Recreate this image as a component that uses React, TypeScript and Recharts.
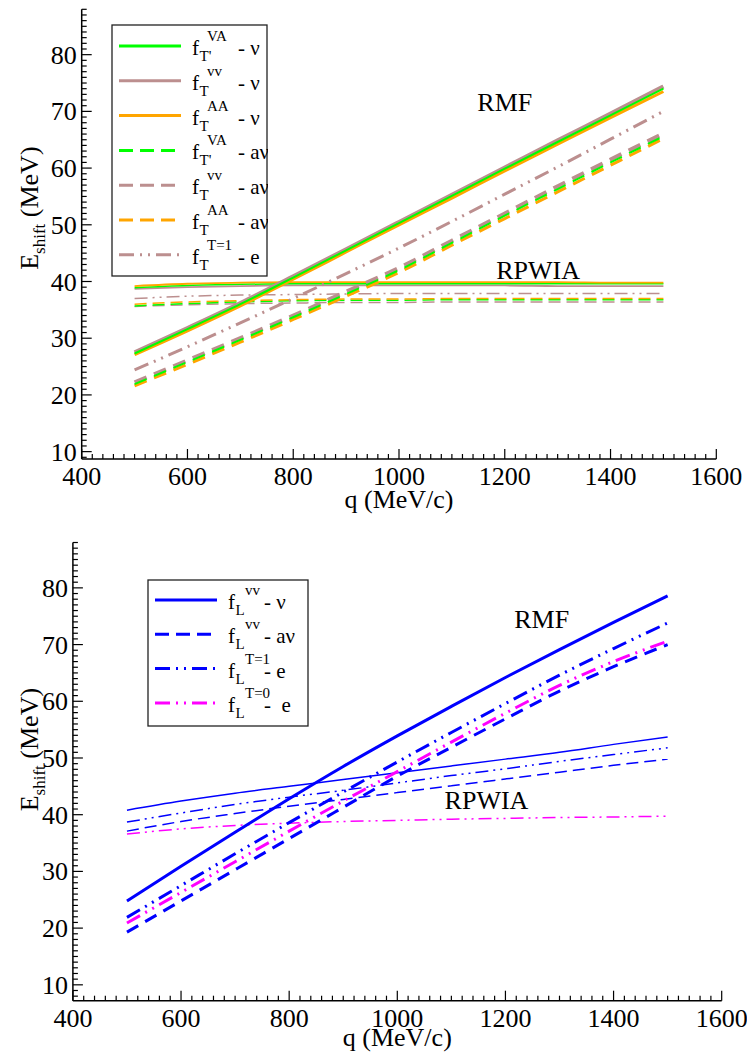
import React from 'react';
import { LineChart, Line, XAxis, YAxis, ReferenceDot, Legend, Label } from 'recharts';

const FONT = "'Liberation Serif', 'Times New Roman', Times, serif";
const TXT = { fontFamily: FONT };

const GREEN = '#00ff00';
const BROWN = '#bc8f8f';
const ORANGE = '#ffa500';
const BLUE = '#0000ff';
const MAGENTA = '#ff00ff';

// momentum transfer q (MeV/c)
const qValues = [500, 600, 700, 800, 900, 1000, 1100, 1200, 1300, 1400, 1500];

// ---- Top panel: transverse, RMF ----
const tRmfVAnu = [27.3, 31.6, 36.0, 40.7, 45.5, 50.3, 55.1, 59.9, 64.6, 69.3, 74.0];
const tRmfVVnu = [27.5, 31.8, 36.2, 40.9, 45.7, 50.5, 55.3, 60.1, 64.9, 69.6, 74.4];
const tRmfAAnu = [27.1, 31.3, 35.7, 40.4, 45.2, 50.0, 54.7, 59.5, 64.2, 68.9, 73.5];
const tRmfVAanu = [21.9, 25.8, 29.7, 33.7, 37.8, 42.0, 46.8, 51.6, 56.3, 61.0, 65.6];
const tRmfVVanu = [22.2, 26.1, 30.0, 34.0, 38.2, 42.4, 47.2, 52.0, 56.8, 61.5, 66.1];
const tRmfAAanu = [21.6, 25.4, 29.3, 33.3, 37.4, 41.6, 46.4, 51.1, 55.8, 60.5, 65.2];
const tRmfE = [24.4, 28.5, 32.7, 37.0, 41.4, 45.9, 50.6, 55.4, 60.2, 65.1, 70.0];
// ---- Top panel: transverse, RPWIA ----
const tPwVAnu = [38.9, 39.3, 39.5, 39.6, 39.6, 39.6, 39.6, 39.6, 39.6, 39.6, 39.6];
const tPwVVnu = [38.7, 39.0, 39.2, 39.3, 39.3, 39.3, 39.3, 39.3, 39.2, 39.2, 39.2];
const tPwAAnu = [39.2, 39.6, 39.8, 39.9, 39.9, 39.9, 39.9, 39.9, 39.9, 39.8, 39.8];
const tPwVAanu = [35.7, 36.1, 36.4, 36.6, 36.7, 36.7, 36.8, 36.8, 36.8, 36.8, 36.8];
const tPwVVanu = [35.6, 35.9, 36.1, 36.2, 36.3, 36.3, 36.4, 36.4, 36.4, 36.4, 36.4];
const tPwAAanu = [36.0, 36.4, 36.6, 36.8, 36.9, 36.9, 37.0, 37.0, 37.0, 37.0, 37.0];
const tPwE = [37.0, 37.4, 37.6, 37.7, 37.8, 37.9, 37.9, 37.9, 37.9, 37.9, 37.9];

// ---- Bottom panel: longitudinal, RMF ----
const lRmfNu = [24.8, 30.9, 36.9, 42.8, 48.5, 53.9, 59.1, 64.2, 69.1, 73.9, 78.6];
const lRmfAnu = [19.3, 24.8, 30.3, 35.8, 41.3, 46.8, 51.9, 56.9, 61.8, 66.1, 70.0];
const lRmfE1 = [21.9, 27.5, 33.1, 38.6, 44.0, 49.3, 54.5, 59.6, 64.6, 69.3, 73.8];
const lRmfE0 = [20.9, 26.3, 31.7, 37.1, 42.4, 47.6, 52.8, 57.9, 62.8, 67.0, 70.6];
// ---- Bottom panel: longitudinal, RPWIA ----
const lPwNu = [40.8, 42.4, 43.8, 45.0, 46.2, 47.4, 48.6, 49.8, 51.0, 52.4, 53.7];
const lPwAnu = [37.1, 38.8, 40.2, 41.5, 42.7, 43.9, 45.1, 46.3, 47.5, 48.7, 49.8];
const lPwE1 = [38.7, 40.3, 41.8, 43.1, 44.3, 45.6, 46.9, 48.1, 49.4, 50.6, 51.8];
const lPwE0 = [36.6, 37.5, 38.1, 38.5, 38.8, 39.0, 39.2, 39.35, 39.5, 39.6, 39.75];

// axis ticks
const xMajorTicks = [400, 600, 800, 1000, 1200, 1400, 1600];
const yMajorTicks = [10, 20, 30, 40, 50, 60, 70, 80];
const X_MINOR = 20;
const Y_MINOR = 1;
const topYDomain = [8.7, 88];
const botYDomain = [7.2, 88];

function stepTicks(min: number, max: number, step: number) {
  const out: number[] = [];
  for (let v = min; v <= max + 1e-9; v += step) out.push(Math.round(v * 1000) / 1000);
  return out;
}
const xTicks = stepTicks(400, 1600, X_MINOR);
const topYTicks = stepTicks(9, 88, Y_MINOR);
const botYTicks = stepTicks(8, 88, Y_MINOR);
const isXMajor = (v: number) => xMajorTicks.includes(Math.round(v));
const isYMajor = (v: number) => yMajorTicks.includes(Math.round(v));

const topData = qValues.map((q, i) => ({
  q,
  rVAnu: tRmfVAnu[i], rVVnu: tRmfVVnu[i], rAAnu: tRmfAAnu[i],
  rVAanu: tRmfVAanu[i], rVVanu: tRmfVVanu[i], rAAanu: tRmfAAanu[i], rE: tRmfE[i],
  pVAnu: tPwVAnu[i], pVVnu: tPwVVnu[i], pAAnu: tPwAAnu[i],
  pVAanu: tPwVAanu[i], pVVanu: tPwVVanu[i], pAAanu: tPwAAanu[i], pE: tPwE[i],
}));

const botData = qValues.map((q, i) => ({
  q,
  rNu: lRmfNu[i], rAnu: lRmfAnu[i], rE1: lRmfE1[i], rE0: lRmfE0[i],
  pNu: lPwNu[i], pAnu: lPwAnu[i], pE1: lPwE1[i], pE0: lPwE0[i],
}));

const DASH_THICK = '13 8';
const DDOT_THICK = '15 6 2 6 2 6';
const DASH_THIN = '12 6';
const DDOT_THIN = '13 5 2 5 2 5';

type SeriesDef = { key: string; color: string; width: number; dash?: string };

const topSeries: SeriesDef[] = [
  { key: 'pVVanu', color: BROWN, width: 1.5, dash: DASH_THIN },
  { key: 'pVAanu', color: GREEN, width: 1.5, dash: DASH_THIN },
  { key: 'pAAanu', color: ORANGE, width: 1.5, dash: DASH_THIN },
  { key: 'pE', color: BROWN, width: 1.5, dash: DDOT_THIN },
  { key: 'pVVnu', color: BROWN, width: 1.8 },
  { key: 'pVAnu', color: GREEN, width: 1.5 },
  { key: 'pAAnu', color: ORANGE, width: 1.8 },
  { key: 'rE', color: BROWN, width: 3, dash: DDOT_THICK },
  { key: 'rVVanu', color: BROWN, width: 4, dash: DASH_THICK },
  { key: 'rAAanu', color: ORANGE, width: 3, dash: DASH_THICK },
  { key: 'rVAanu', color: GREEN, width: 2, dash: DASH_THICK },
  { key: 'rVVnu', color: BROWN, width: 4 },
  { key: 'rAAnu', color: ORANGE, width: 3 },
  { key: 'rVAnu', color: GREEN, width: 2 },
];

const botSeries: SeriesDef[] = [
  { key: 'pNu', color: BLUE, width: 1.5 },
  { key: 'pAnu', color: BLUE, width: 1.5, dash: DASH_THIN },
  { key: 'pE1', color: BLUE, width: 1.5, dash: DDOT_THIN },
  { key: 'pE0', color: MAGENTA, width: 1.5, dash: DDOT_THIN },
  { key: 'rNu', color: BLUE, width: 3 },
  { key: 'rAnu', color: BLUE, width: 3, dash: DASH_THICK },
  { key: 'rE1', color: BLUE, width: 3, dash: DDOT_THICK },
  { key: 'rE0', color: MAGENTA, width: 3, dash: DDOT_THICK },
];

type LegendItem = { color: string; dash?: string; sub: string; sup: string; tail: string };

const topLegend: LegendItem[] = [
  { color: GREEN, sub: "T'", sup: 'VA', tail: '- ν' },
  { color: BROWN, sub: 'T', sup: 'vv', tail: '- ν' },
  { color: ORANGE, sub: 'T', sup: 'AA', tail: '- ν' },
  { color: GREEN, dash: '14 7', sub: "T'", sup: 'VA', tail: '- aν' },
  { color: BROWN, dash: '14 7', sub: 'T', sup: 'vv', tail: '- aν' },
  { color: ORANGE, dash: '14 7', sub: 'T', sup: 'AA', tail: '- aν' },
  { color: BROWN, dash: '15 6 2 6 2 6', sub: 'T', sup: 'T=1', tail: '- e' },
];

const botLegend: LegendItem[] = [
  { color: BLUE, sub: 'L', sup: 'vv', tail: '- ν' },
  { color: BLUE, dash: '14 7', sub: 'L', sup: 'vv', tail: '- aν' },
  { color: BLUE, dash: '15 6 2 6 2 6', sub: 'L', sup: 'T=1', tail: '- e' },
  { color: MAGENTA, dash: '15 6 2 6 2 6', sub: 'L', sup: 'T=0', tail: '-  e' },
];

function LegendBox({ items, w, h, rowStart, rowStep, supX, tailX }: any) {
  return (
    <svg width={w + 2} height={h + 2} style={{ display: 'block' }}>
      <rect x={1} y={1} width={w} height={h} fill="#fff" stroke="#222" strokeWidth={1.3} />
      {items.map((it: LegendItem, i: number) => {
        const cy = 1 + rowStart + i * rowStep;
        return (
          <g key={i} style={TXT}>
            <line x1={8} x2={70} y1={cy} y2={cy} stroke={it.color} strokeWidth={3} strokeDasharray={it.dash} />
            <text x={81} y={cy + 9} style={TXT} fontSize={21} fill="#000">f</text>
            <text x={88.5} y={cy + 15} style={TXT} fontSize={15} fill="#000">{it.sub}</text>
            <text x={supX} y={cy - 5} style={TXT} fontSize={15} fill="#000">{it.sup}</text>
            <text x={tailX} y={cy + 9} style={{ ...TXT, whiteSpace: 'pre' }} fontSize={21} fill="#000">{it.tail}</text>
          </g>
        );
      })}
    </svg>
  );
}

const axisStyle = { stroke: '#000', strokeWidth: 1.5 };

const BottomTick = (props: any) => {
  const { x, y, payload } = props;
  const v = payload.value;
  const major = isXMajor(v);
  return (
    <g>
      <line x1={x} x2={x} y1={y} y2={y - (major ? 10 : 5)} stroke="#000" strokeWidth={1.2} />
      {major && (
        <text x={x} y={y + 26} textAnchor="middle" style={TXT} fontSize={26} fill="#000">{v}</text>
      )}
    </g>
  );
};
const TopTick = (props: any) => {
  const { x, y, payload } = props;
  const major = isXMajor(payload.value);
  return <line x1={x} x2={x} y1={y} y2={y + (major ? 10 : 5)} stroke="#000" strokeWidth={1.2} />;
};
const LeftTick = (props: any) => {
  const { x, y, payload } = props;
  const v = payload.value;
  const major = isYMajor(v);
  return (
    <g>
      <line x1={x} x2={x + (major ? 10 : 5)} y1={y} y2={y} stroke="#000" strokeWidth={1.2} />
      {major && (
        <text x={x - 5} y={y + 9} textAnchor="end" style={TXT} fontSize={26} fill="#000">{v}</text>
      )}
    </g>
  );
};
const RightTick = (props: any) => {
  const { x, y, payload } = props;
  const major = isYMajor(payload.value);
  return <line x1={x} x2={x - (major ? 10 : 5)} y1={y} y2={y} stroke="#000" strokeWidth={1.2} />;
};

const makeXTitle = (gap: number) => (props: any) => {
  const vb = props.viewBox;
  return (
    <text x={vb.x + vb.width / 2} y={vb.y + gap} textAnchor="middle" style={TXT} fontSize={26} fill="#000">
      q (MeV/c)
    </text>
  );
};
const makeYTitle = (shift: number) => (props: any) => {
  const vb = props.viewBox;
  const cy = vb.y + vb.height / 2 + shift;
  return (
    <text transform={`translate(38,${cy}) rotate(-90)`} textAnchor="middle" style={TXT} fontSize={26} fill="#000">
      E<tspan dy={7} fontSize={17}>shift</tspan>
      <tspan dy={-7}> (MeV)</tspan>
    </text>
  );
};

const annLabel = (text: string) => ({
  value: text,
  position: 'center' as const,
  fontFamily: FONT,
  style: TXT,
  fontSize: 26,
  fill: '#000',
});

function Panel({ data, series, yDomain, yTicks, margin, legend, ann, yTitleShift, xTitleGap }: any) {
  return (
    <LineChart width={747} height={526} data={data} margin={margin} style={TXT}>
      <XAxis xAxisId="b" dataKey="q" type="number" domain={[400, 1600]} ticks={xTicks} interval={0}
        tickSize={0} tickMargin={0} tickLine={false} height={30} axisLine={axisStyle} tick={BottomTick} allowDataOverflow>
        <Label content={makeXTitle(xTitleGap)} />
      </XAxis>
      <XAxis xAxisId="t" orientation="top" dataKey="q" type="number" domain={[400, 1600]} ticks={xTicks} interval={0}
        tickSize={0} tickMargin={0} tickLine={false} height={0} axisLine={axisStyle} tick={TopTick} allowDataOverflow />
      <YAxis yAxisId="l" type="number" domain={yDomain} ticks={yTicks} interval={0}
        tickSize={0} tickMargin={0} tickLine={false} width={60} axisLine={axisStyle} tick={LeftTick} allowDataOverflow>
        <Label content={makeYTitle(yTitleShift)} />
      </YAxis>
      <YAxis yAxisId="r" orientation="right" type="number" domain={yDomain} ticks={yTicks} interval={0}
        tickSize={0} tickMargin={0} tickLine={false} width={0} axisLine={axisStyle} tick={RightTick} allowDataOverflow />
      {series.map((s: SeriesDef) => (
        <Line key={s.key} xAxisId="b" yAxisId="l" type="monotone" dataKey={s.key} stroke={s.color}
          strokeWidth={s.width} strokeDasharray={s.dash} dot={false} activeDot={false} isAnimationActive={false} />
      ))}
      {ann.map((a: any) => (
        <ReferenceDot key={a.text} xAxisId="b" yAxisId="l" x={a.q} y={a.e} r={0} fill="none" stroke="none"
          label={annLabel(a.text)} />
      ))}
      <Legend layout="horizontal" verticalAlign="middle" align="center"
        wrapperStyle={{ left: legend.left, top: legend.top, width: legend.w + 2, height: legend.h + 2 }}
        content={() => <LegendBox {...legend} />} />
    </LineChart>
  );
}

const topAnn = [
  { text: 'RMF', q: 1200, e: 71.7 },
  { text: 'RPWIA', q: 1263, e: 42.0 },
];
const botAnn = [
  { text: 'RMF', q: 1267, e: 74.5 },
  { text: 'RPWIA', q: 1165, e: 42.6 },
];

export default function App() {
  return (
    <div style={{ position: 'absolute', left: 0, top: 0, width: 747, height: 1052, background: '#fff', fontFamily: FONT }}>
      <div style={{ position: 'absolute', left: 0, top: 0 }}>
        <Panel data={topData} series={topSeries} yDomain={topYDomain} yTicks={topYTicks}
          margin={{ top: 9.3, right: 30.7, bottom: 37, left: 21.7 }}
          legend={{ items: topLegend, left: 110.7, top: 24, w: 155, h: 251, rowStart: 21, rowStep: 34.8, supX: 96, tailX: 127 }}
          ann={topAnn} yTitleShift={-26} xTitleGap={49} />
      </div>
      <div style={{ position: 'absolute', left: 0, top: 526 }}>
        <Panel data={botData} series={botSeries} yDomain={botYDomain} yTicks={botYTicks}
          margin={{ top: 16.5, right: 25.3, bottom: 21.3, left: 12.9 }}
          legend={{ items: botLegend, left: 147, top: 53, w: 160, h: 146, rowStart: 20, rowStep: 34.3, supX: 98, tailX: 117 }}
          ann={botAnn} yTitleShift={-22} xTitleGap={45} />
      </div>
    </div>
  );
}
